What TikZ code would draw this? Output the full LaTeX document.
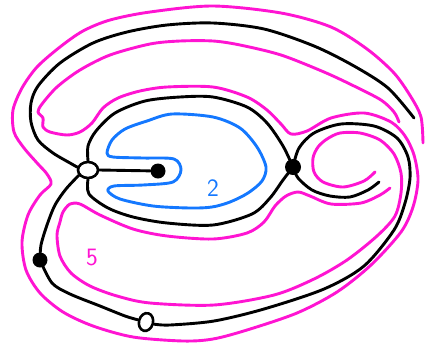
\documentclass[tikz,border=0pt]{standalone}
\usetikzlibrary{backgrounds,shapes.geometric}
\definecolor{pinkline}{RGB}{255,20,210}
\definecolor{blueline}{RGB}{20,120,255}
\begin{document}
\begin{tikzpicture}[x=1pt,y=-1pt,
  wire/.style={line width=2.9pt, line cap=round, line join=round},
  blackpath/.style={wire, draw=black},
  pinkpath/.style={wire, draw=pinkline},
  bluepath/.style={wire, draw=blueline},
  openvertex/.style={ellipse, draw=black, fill=white, line width=2.6pt, inner sep=0pt},
  dotvertex/.style={circle, fill=black, inner sep=0pt},
  numlabel/.style={font=\sffamily\fontsize{25}{25}\selectfont, inner sep=0pt}]
\useasboundingbox (0,0) rectangle (428,346);

% vertices
\node[openvertex, minimum width=20pt, minimum height=16pt] (A) at (88,170) {};
\node[dotvertex, minimum size=15pt] (B) at (158,171) {};
\node[dotvertex, minimum size=16pt] (C) at (293,167) {};
\node[dotvertex, minimum size=15pt] (D) at (40,260) {};
\node[openvertex, minimum width=14pt, minimum height=18pt, rotate=-15] (E) at (146,322) {};
\coordinate (o1) at (414,118);
\coordinate (o2) at (379,182);

% labels
\node[numlabel, text=blueline] (two) at (213,188) {2};
\node[numlabel, text=pinkline] (five) at (92,257) {5};

\begin{pgfonlayer}{background}
% black edges
\draw[blackpath] (A.east) -- (B);
\draw[blackpath] plot[smooth] coordinates {(A.165) (70,163) (53,153) (38,140) (31,122) (31,103) (38,86) (60,63) (93,43) (127,32) (167,25) (213,23) (264,29) (314,46) (354,66) (388,88) (o1)};
\draw[blackpath] plot[smooth] coordinates {(A.north) (88,146) (96,131) (115,113) (145,101) (180,97) (213,97) (247,107) (267,123) (283,146) (C)};
\draw[blackpath] plot[smooth] coordinates {(A.south) (89,194) (108,208) (133,217) (167,223) (213,225) (252,214) (270,198) (283,180) (C)};
\draw[blackpath] plot[smooth] coordinates {(C) (299,148) (314,133) (341,124) (374,126) (397,138) (408,157) (410,178) (405,203) (394,230) (364,266) (324,289) (264,309) (214,321) (170,325) (E.east)};
\draw[blackpath] plot[smooth] coordinates {(E.west) (125,316) (100,306) (70,294) (52,283) (D)};
\draw[blackpath] plot[smooth] coordinates {(D) (41,245) (47,225) (55,205) (66,189) (A.210)};
\draw[blackpath] plot[smooth] coordinates {(C) (298,178) (312,190) (330,196) (350,197) (368,190) (o2)};

% blue curve
\draw[bluepath] plot[smooth cycle] coordinates {(107,153) (112,140) (125,129) (147,121) (172,114) (213,117) (240,128) (257,147) (266,167) (262,181) (248,193) (230,202) (212,207) (190,208) (153,206) (120,199) (108,191) (114,186) (143,185) (173,182) (181,170) (174,159) (143,158) (113,157)};

% pink curves
\draw[pinkpath] plot[smooth] coordinates {(399,122) (394,112) (381,100) (354,86) (324,72) (281,55) (240,45) (213,41) (180,41) (150,44) (110,55) (80,70) (57,87) (42,104) (38,112) (43,118) (43,127) (50,132) (67,135) (80,132) (92,123) (103,108) (118,98) (140,91) (167,87) (213,87) (247,97) (267,110) (281,124) (291,134) (307,131) (331,118) (364,113) (391,122) (405,136) (414,155) (418,180) (413,207) (401,232) (371,265) (337,292) (297,313) (247,330) (213,339) (183,341) (133,337) (93,326) (63,312) (40,293) (26,270) (22,242) (28,215) (40,195) (51,184) (47,174) (38,164) (24,148) (14,132) (13,110) (22,88) (37,67) (60,47) (83,31) (110,20) (150,12) (213,6) (281,13) (331,27) (367,49) (394,73) (411,97) (421,117) (423,143)};
\draw[pinkpath] plot[smooth] coordinates {(375,172) (364,181) (343,187) (323,182) (314,172) (313,158) (318,147) (327,139) (340,133) (360,133) (380,140) (394,154) (401,173) (401,193) (395,216) (377,236) (347,260) (314,279) (274,295) (214,305) (150,303) (117,296) (90,286) (71,273) (60,256) (57,235) (60,222) (63,212) (70,204) (80,204) (100,215) (133,229) (167,236) (213,239) (247,233) (264,222) (275,206) (286,196) (298,192) (310,196) (331,204) (361,203) (380,195) (390,188)};
\end{pgfonlayer}
\end{tikzpicture}
\end{document}
